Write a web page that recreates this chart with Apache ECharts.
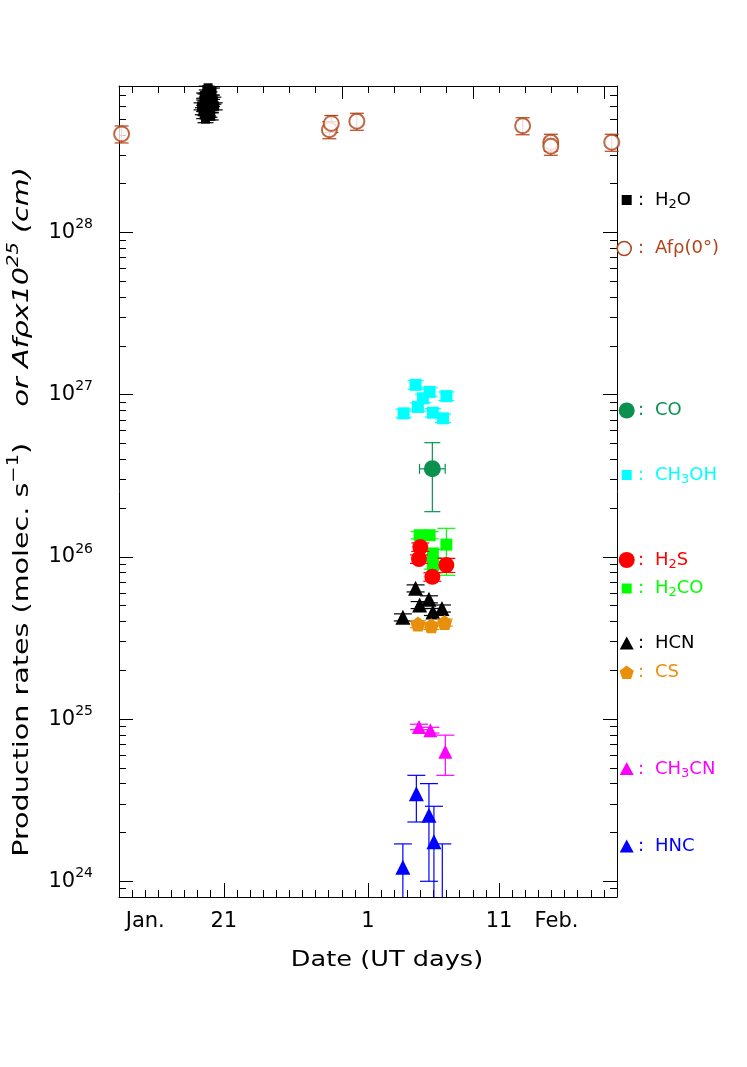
<!DOCTYPE html>
<html><head><meta charset="utf-8">
<script src="https://cdn.jsdelivr.net/npm/echarts@6/dist/echarts.min.js"></script>
<style>html,body{margin:0;padding:0;background:#fff}#c{width:747px;height:1067px}</style>
</head><body><div id="c"></div>
<script>
// x = day of year (Jan 1 = 1, Feb 1 = 32)
const X_MIN = 13, X_MAX = 51;
const Y_MIN = 8e23, Y_MAX = 8e28;
const xLabelDays = [15, 21, 32, 42, 46];
const xLabelTexts = ['Jan.', '21', '1', '11', 'Feb.'];
const xMajorDays = [21, 32, 42];
const topMajorDays = [20, 30, 40, 50];

// H2O
const h2oDays = [19.3,19.4,19.5,19.5,19.6,19.6,19.7,19.7,19.8,19.8,19.9,19.9,20.0,20.0,20.1,20.1,20.2,19.6,19.7,19.9,20.3,19.5,19.8,20.0];
const h2oVals = [6.0e28,5.6e28,6.4e28,5.3e28,6.8e28,5.9e28,7.2e28,6.2e28,6.6e28,5.5e28,7.0e28,6.1e28,6.7e28,5.8e28,6.3e28,7.4e28,6.5e28,5.0e28,7.6e28,5.4e28,6.0e28,6.9e28,7.8e28,5.2e28];
const h2oErr = [0.05,0.05,0.05,0.05,0.05,0.05,0.05,0.05,0.05,0.05,0.05,0.05,0.05,0.05,0.05,0.05,0.05,0.05,0.05,0.05,0.05,0.05,0.05,0.05];
// Af rho (x 1e25 cm)
const afDays = [13.2, 29.05, 29.2, 31.15, 43.8, 45.95, 45.95, 50.6];
const afVals = [4.05e28, 4.3e28, 4.7e28, 4.85e28, 4.55e28, 3.6e28, 3.4e28, 3.6e28];
const afErr = [0.12,0.12,0.12,0.12,0.12,0.12,0.12,0.12];
// CO
const coDays = [36.91];
const coVals = [3.49e26];
const coLo = [1.9e26];
const coHi = [5.06e26];
const coDayErr = [0.98];
// CH3OH
const ch3ohDays = [35.63, 36.70, 37.98, 35.81, 34.72, 36.95, 37.72, 36.19];
const ch3ohVals = [1.15e27, 1.04e27, 9.8e26, 8.4e26, 7.67e26, 7.74e26, 7.15e26, 9.5e26];
const ch3ohErr = [0.06,0.06,0.06,0.06,0.06,0.06,0.06,0.06];
// H2S
const h2sDays = [35.99, 35.89, 37.98, 36.91];
const h2sVals = [1.15e26, 9.7e25, 8.9e25, 7.53e25];
const h2sErr = [0.06, 0.06, 0.1, 0.06];
// H2CO
const h2coDays = [35.94, 36.70, 37.98, 36.95, 36.95];
const h2coVals = [1.36e26, 1.36e26, 1.19e26, 1.05e26, 8.9e25];
const h2coLo = [1.29e26, 1.29e26, 7.7e25, 0.99e26, 8.4e25];
const h2coHi = [1.43e26, 1.43e26, 1.5e26, 1.11e26, 9.4e25];
// HCN
const hcnDays = [35.63, 36.65, 35.94, 34.66, 36.95, 37.64];
const hcnVals = [6.4e25, 5.48e25, 5.05e25, 4.24e25, 4.58e25, 4.81e25];
const hcnErr = [0.05,0.05,0.05,0.05,0.05,0.05];
// CS
const csDays = [35.81, 36.83, 37.85];
const csVals = [3.85e25, 3.76e25, 3.94e25];
const csErr = [0.05,0.05,0.05];
// CH3CN
const ch3cnDays = [35.89, 36.76, 37.90];
const ch3cnVals = [8.95e24, 8.54e24, 6.28e24];
const ch3cnLo = [8.6e24, 8.2e24, 4.5e24];
const ch3cnHi = [9.3e24, 8.9e24, 7.96e24];
// HNC
const hncDays = [34.66, 35.69, 36.65, 37.03, 37.67];
const hncVals = [1.22e24, 3.47e24, 2.55e24, 1.75e24, 6.0e23];
const hncLo = [5.0e23, 2.32e24, 1.0e24, 5.0e23, 3.0e23];
const hncHi = [1.7e24, 4.5e24, 4.0e24, 2.9e24, 1.7e24];

const FONT = 'DejaVu Sans';
const C = {
  h2o: '#000000', af: '#b0441a', co: '#0a9150', ch3oh: '#00ffff', h2s: '#ff0000',
  h2co: '#00ff00', hcn: '#000000', cs: '#e8900c', ch3cn: '#ff00ff', hnc: '#0000ff'
};
const PENTA = 'path://M0,-1 L0.951,-0.309 L0.588,0.809 L-0.588,0.809 L-0.951,-0.309 Z';

function rel(vals, err, sign) { return vals.map((v, i) => v * (1 + sign * err[i])); }
function pairs(days, vals) { return days.map((d, i) => [d, vals[i]]); }

function errSeries(days, lo, hi, color, capHalf, z) {
  return {
    type: 'custom', xAxisIndex: 0, yAxisIndex: 0, z: z, silent: true,
    data: days.map((d, i) => [d, lo[i], hi[i]]),
    renderItem(params, api) {
      const x = api.value(0), l = api.value(1), h = api.value(2);
      const pl = api.coord([x, Math.max(l, Y_MIN)]);
      const ph = api.coord([x, Math.min(h, Y_MAX)]);
      const st = { stroke: color, lineWidth: 1.2 };
      const ch = [{ type: 'line', shape: { x1: pl[0], y1: pl[1], x2: ph[0], y2: ph[1] }, style: st }];
      if (h <= Y_MAX) ch.push({ type: 'line', shape: { x1: ph[0] - capHalf, y1: ph[1], x2: ph[0] + capHalf, y2: ph[1] }, style: st });
      if (l >= Y_MIN) ch.push({ type: 'line', shape: { x1: pl[0] - capHalf, y1: pl[1], x2: pl[0] + capHalf, y2: pl[1] }, style: st });
      return { type: 'group', children: ch };
    }
  };
}
function xErrSeries(days, vals, dErr, color, capHalf, z) {
  return {
    type: 'custom', xAxisIndex: 0, yAxisIndex: 0, z: z, silent: true,
    data: days.map((d, i) => [d, vals[i], dErr[i]]),
    renderItem(params, api) {
      const x = api.value(0), v = api.value(1), e = api.value(2);
      const pa = api.coord([x - e, v]), pb = api.coord([x + e, v]);
      const st = { stroke: color, lineWidth: 1.2 };
      return { type: 'group', children: [
        { type: 'line', shape: { x1: pa[0], y1: pa[1], x2: pb[0], y2: pb[1] }, style: st },
        { type: 'line', shape: { x1: pa[0], y1: pa[1] - capHalf, x2: pa[0], y2: pa[1] + capHalf }, style: st },
        { type: 'line', shape: { x1: pb[0], y1: pb[1] - capHalf, x2: pb[0], y2: pb[1] + capHalf }, style: st }
      ] };
    }
  };
}
function sc(days, vals, symbol, size, color, z, extra) {
  return Object.assign({
    type: 'scatter', xAxisIndex: 0, yAxisIndex: 0, z: z, silent: true,
    symbol: symbol, symbolSize: size, data: pairs(days, vals),
    itemStyle: { color: color, opacity: 1 }, clip: true
  }, extra || {});
}

const range = (a, b, s) => { const r = []; for (let v = a; v <= b + 1e-9; v += s) r.push(v); return r; };
const minorLogs = [];
for (let e = 23; e <= 28; e++) for (let k = 2; k <= 9; k++) {
  const v = Math.log10(k) + e;
  if (v > Math.log10(Y_MIN) - 1e-9 && v < Math.log10(Y_MAX) + 1e-9) minorLogs.push(v);
}

const AX = { color: '#000', width: 1 };
const xAxes = [
  { type: 'value', min: X_MIN, max: X_MAX, position: 'bottom',
    axisLine: { show: true, lineStyle: AX },
    axisTick: { show: true, inside: true, length: 7, lineStyle: AX, customValues: range(X_MIN, X_MAX, 1) },
    axisLabel: { show: true, customValues: xLabelDays, margin: 14,
      formatter: v => { const i = xLabelDays.indexOf(Math.round(v)); return i < 0 ? '' : (i === 4 ? '{f|' + xLabelTexts[i] + '}' : xLabelTexts[i]); },
      rich: { f: { fontFamily: FONT, fontSize: 21, color: '#000', padding: [0, 0, 0, 10] } },
      fontFamily: FONT, fontSize: 21, color: '#000' },
    splitLine: { show: false } },
  { type: 'value', min: X_MIN, max: X_MAX, position: 'bottom',
    axisLine: { show: false },
    axisTick: { show: true, inside: true, length: 14, lineStyle: AX, customValues: xMajorDays },
    axisLabel: { show: false }, splitLine: { show: false } },
  { type: 'value', min: X_MIN, max: X_MAX, position: 'top',
    axisLine: { show: true, lineStyle: AX },
    axisTick: { show: true, inside: true, length: 7, lineStyle: AX, customValues: range(14, 50, 2) },
    axisLabel: { show: false }, splitLine: { show: false } },
  { type: 'value', min: X_MIN, max: X_MAX, position: 'top',
    axisLine: { show: false },
    axisTick: { show: true, inside: true, length: 13, lineStyle: AX, customValues: topMajorDays },
    axisLabel: { show: false }, splitLine: { show: false } }
];
const yAxes = [
  { type: 'log', logBase: 10, min: Y_MIN, max: Y_MAX, position: 'left',
    axisLine: { show: true, lineStyle: AX },
    axisTick: { show: true, inside: true, length: 14, lineStyle: AX },
    axisLabel: { show: true, margin: 26,
      formatter: v => {
        const e = Math.log10(v);
        if (Math.abs(e - Math.round(e)) > 1e-6) return '';
        return '{b|10}{s|' + Math.round(e) + '}';
      },
      rich: { b: { fontFamily: FONT, fontSize: 21, lineHeight: 30, color: '#000' },
              s: { fontFamily: FONT, fontSize: 14, lineHeight: 8, verticalAlign: 'top', color: '#000' } } },
    splitLine: { show: false } },
  { type: 'log', logBase: 10, min: Y_MIN, max: Y_MAX, position: 'right',
    axisLine: { show: true, lineStyle: AX },
    axisTick: { show: true, inside: true, length: 14, lineStyle: AX },
    axisLabel: { show: false }, splitLine: { show: false } },
  { type: 'value', min: Math.log10(Y_MIN), max: Math.log10(Y_MAX), position: 'left',
    axisLine: { show: false },
    axisTick: { show: true, inside: true, length: 7, lineStyle: AX, customValues: minorLogs },
    axisLabel: { show: false }, splitLine: { show: false } },
  { type: 'value', min: Math.log10(Y_MIN), max: Math.log10(Y_MAX), position: 'right',
    axisLine: { show: false },
    axisTick: { show: true, inside: true, length: 7, lineStyle: AX, customValues: minorLogs },
    axisLabel: { show: false }, splitLine: { show: false } }
];

const series = [
  errSeries(afDays, rel(afVals, afErr, -1), rel(afVals, afErr, 1), C.af, 7, 2),
  sc(afDays, afVals, 'emptyCircle', 15, C.af, 3, { itemStyle: { color: C.af, borderColor: C.af, borderWidth: 1.6 } }),
  errSeries(h2oDays, rel(h2oVals, h2oErr, -1), rel(h2oVals, h2oErr, 1), C.h2o, 8, 4),
  sc(h2oDays, h2oVals, 'rect', 9, C.h2o, 5),
  errSeries(ch3ohDays, rel(ch3ohVals, ch3ohErr, -1), rel(ch3ohVals, ch3ohErr, 1), C.ch3oh, 8, 6),
  sc(ch3ohDays, ch3ohVals, 'rect', 12, C.ch3oh, 7),
  errSeries(coDays, coLo, coHi, C.co, 8, 8),
  xErrSeries(coDays, coVals, coDayErr, C.co, 5, 8),
  sc(coDays, coVals, 'circle', 17, C.co, 9),
  errSeries(h2coDays, h2coLo, h2coHi, C.h2co, 9, 10),
  sc(h2coDays, h2coVals, 'rect', 12, C.h2co, 11),
  errSeries(h2sDays, rel(h2sVals, h2sErr, -1), rel(h2sVals, h2sErr, 1), C.h2s, 9, 12),
  sc(h2sDays, h2sVals, 'circle', 16, C.h2s, 13),
  errSeries(hcnDays, rel(hcnVals, hcnErr, -1), rel(hcnVals, hcnErr, 1), C.hcn, 9, 14),
  sc(hcnDays, hcnVals, 'triangle', 15, C.hcn, 15),
  errSeries(csDays, rel(csVals, csErr, -1), rel(csVals, csErr, 1), C.cs, 8, 16),
  sc(csDays, csVals, PENTA, 15, C.cs, 17),
  errSeries(ch3cnDays, ch3cnLo, ch3cnHi, C.ch3cn, 9, 18),
  sc(ch3cnDays, ch3cnVals, 'triangle', 14, C.ch3cn, 19),
  errSeries(hncDays, hncLo, hncHi, C.hnc, 9, 20),
  sc(hncDays, hncVals, 'triangle', 15, C.hnc, 21)
];

// Legend (right side)
const LX = 626.7;
const legendItems = [
  { y: 200, shape: 'rect', color: C.h2o, parts: [['n', 'H'], ['s', '2'], ['n', 'O']] },
  { y: 248.5, shape: 'ocircle', color: C.af, parts: [['n', 'Afρ(0°)']] },
  { y: 410.5, shape: 'circle', color: C.co, parts: [['n', 'CO']] },
  { y: 475, shape: 'rect', color: C.ch3oh, parts: [['n', 'CH'], ['s', '3'], ['n', 'OH']] },
  { y: 560, shape: 'circle', color: C.h2s, parts: [['n', 'H'], ['s', '2'], ['n', 'S']] },
  { y: 588.5, shape: 'rect', color: C.h2co, parts: [['n', 'H'], ['s', '2'], ['n', 'CO']] },
  { y: 643.5, shape: 'tri', color: C.hcn, parts: [['n', 'HCN']] },
  { y: 672.5, shape: 'penta', color: C.cs, parts: [['n', 'CS']] },
  { y: 769, shape: 'tri', color: C.ch3cn, parts: [['n', 'CH'], ['s', '3'], ['n', 'CN']] },
  { y: 846.5, shape: 'tri', color: C.hnc, parts: [['n', 'HNC']] }
];
const LRICH = {
  n: { fontFamily: FONT, fontSize: 18, lineHeight: 22 },
  s: { fontFamily: FONT, fontSize: 13, lineHeight: 12, verticalAlign: 'bottom' }
};
const graphics = [];
legendItems.forEach(it => {
  let m;
  if (it.shape === 'rect') m = { type: 'rect', shape: { x: LX - 5, y: it.y - 5, width: 10, height: 10 }, style: { fill: it.color } };
  else if (it.shape === 'circle') m = { type: 'circle', shape: { cx: LX, cy: it.y, r: 8 }, style: { fill: it.color } };
  else if (it.shape === 'ocircle') m = { type: 'circle', shape: { cx: LX - 2.5, cy: it.y, r: 7 }, style: { fill: 'none', stroke: it.color, lineWidth: 1.6 } };
  else if (it.shape === 'tri') m = { type: 'polygon', shape: { points: [[LX, it.y - 7], [LX + 7, it.y + 6], [LX - 7, it.y + 6]] }, style: { fill: it.color } };
  else {
    const pts = []; for (let k = 0; k < 5; k++) { const a = -Math.PI / 2 + k * 2 * Math.PI / 5; pts.push([LX + 7.5 * Math.cos(a), it.y + 0.5 + 7.5 * Math.sin(a)]); }
    m = { type: 'polygon', shape: { points: pts }, style: { fill: it.color } };
  }
  m.z = 100;
  graphics.push(m);
  graphics.push({ type: 'text', x: 638, y: it.y, z: 100,
    style: { text: ':', fill: it.color, font: '18px "DejaVu Sans"', verticalAlign: 'middle', align: 'left' } });
  graphics.push({ type: 'text', x: 655, y: it.y, z: 100,
    style: { text: it.parts.map(p => '{' + p[0] + '|' + p[1] + '}').join(''), fill: it.color,
      rich: LRICH, verticalAlign: 'middle', align: 'left' } });
});
// axis titles
graphics.push({ type: 'text', x: 387, y: 961, z: 100, scaleX: 1.22,
  style: { text: 'Date (UT days)', fill: '#000', font: '21px "DejaVu Sans"', align: 'center', verticalAlign: 'middle' } });
graphics.push({ type: 'text', x: 22, y: 512, rotation: Math.PI / 2, scaleX: 1.3, z: 100,
  style: { text: '{n|Production rates (molec. s}{p|−1}{n|)    }{i|or Afρx10}{q|25}{i| (cm)}', fill: '#000',
    align: 'center', verticalAlign: 'middle',
    rich: {
      n: { fontFamily: FONT, fontSize: 22, lineHeight: 30 },
      p: { fontFamily: FONT, fontSize: 15, lineHeight: 12, verticalAlign: 'top' },
      i: { fontFamily: FONT, fontSize: 22, lineHeight: 30, fontStyle: 'italic' },
      q: { fontFamily: FONT, fontSize: 15, lineHeight: 12, verticalAlign: 'top', fontStyle: 'italic' }
    } } });

const chart = echarts.init(document.getElementById('c'), null, { renderer: 'canvas' });
chart.setOption({
  animation: false,
  backgroundColor: '#fff',
  grid: { left: 119, right: 130, top: 86, bottom: 170, containLabel: false },
  xAxis: xAxes,
  yAxis: yAxes,
  series: series,
  graphic: graphics
});
</script>
</body></html>
